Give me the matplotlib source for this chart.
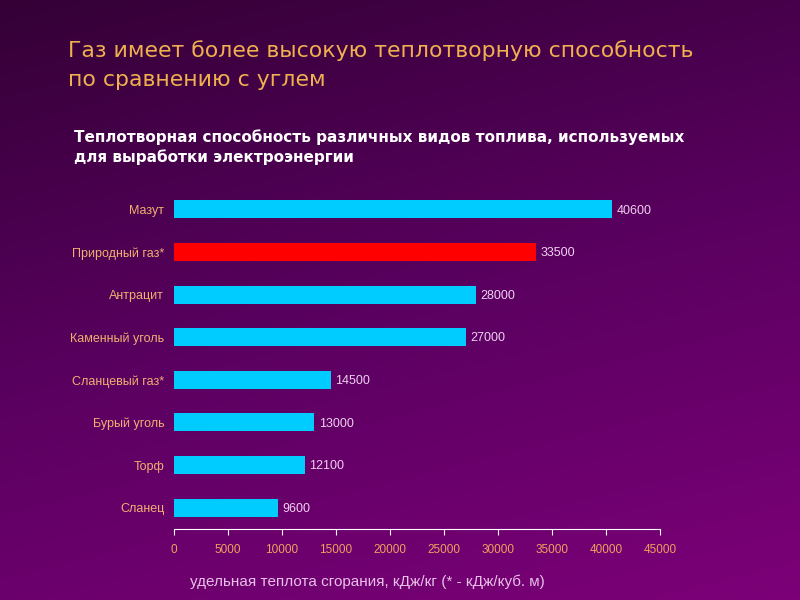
import numpy as np
import matplotlib
matplotlib.use("Agg")
import matplotlib.pyplot as plt
from matplotlib.colors import LinearSegmentedColormap

# Data (top to bottom as in the picture)
fuels = ["Мазут", "Природный газ*", "Антрацит", "Каменный уголь",
         "Сланцевый газ*", "Бурый уголь", "Торф", "Сланец"]
values = [40600, 33500, 28000, 27000, 14500, 13000, 12100, 9600]
highlight = "Природный газ*"

title = "Газ имеет более высокую теплотворную способность\nпо сравнению с углем"
subtitle = "Теплотворная способность различных видов топлива, используемых\nдля выработки электроэнергии"
xlabel = "удельная теплота сгорания, кДж/кг (* - кДж/куб. м)"
xticks = list(range(0, 45001, 5000))

fig = plt.figure(figsize=(8, 6), dpi=100)

# background gradient
bg = fig.add_axes([0, 0, 1, 1], zorder=-10)
cmap = LinearSegmentedColormap.from_list("bg", ["#7c0078", "#5a0060", "#340036"])
yy, xx = np.mgrid[0:1:300j, 0:1:400j]
grad = 0.75 * yy + 0.25 * (1 - xx)
bg.imshow(grad, cmap=cmap, origin="lower", extent=[0, 1, 0, 1], aspect="auto")
bg.set_axis_off()

fig.text(0.085, 0.933, title, color="#f0b050", fontsize=15.8, va="top",
         ha="left", linespacing=1.55, family="DejaVu Sans")
fig.text(0.093, 0.785, subtitle, color="white", fontsize=11, fontweight="bold",
         va="top", ha="left", linespacing=1.35,
         family=["Liberation Sans Narrow", "DejaVu Sans"])

ax = fig.add_axes([0.2175, 0.1183, 0.6075, 0.5684])
ax.patch.set_alpha(0)
pos = np.arange(len(fuels))[::-1]
colors = ["#ff0000" if f == highlight else "#00ccff" for f in fuels]
ax.barh(pos, values, height=0.42, color=colors)
for p, v in zip(pos, values):
    ax.text(v + 400, p - 0.03, str(v), va="center", ha="left", color="#f0d0f0",
            fontsize=9, family="Liberation Sans")

ax.set_xlim(0, 45000)
ax.set_ylim(-0.5, 7.5)
ax.set_yticks(pos)
ax.set_yticklabels(fuels, color="#f0b070", fontsize=9, family="Liberation Sans")
ax.tick_params(axis="y", length=0, pad=7)
ax.set_xticks(xticks)
ax.set_xticklabels([str(t) for t in xticks], color="#f0a060", fontsize=8.5,
                   family="Liberation Sans")
ax.tick_params(axis="x", direction="out", length=4, color="white", pad=7)
for s in ["top", "right", "left"]:
    ax.spines[s].set_visible(False)
ax.spines["bottom"].set_color("white")

fig.text(0.2375, 0.018, xlabel, color="#e8c0e8", fontsize=11,
         family="Liberation Sans", ha="left", va="bottom")

fig.savefig("out.png", dpi=100)
